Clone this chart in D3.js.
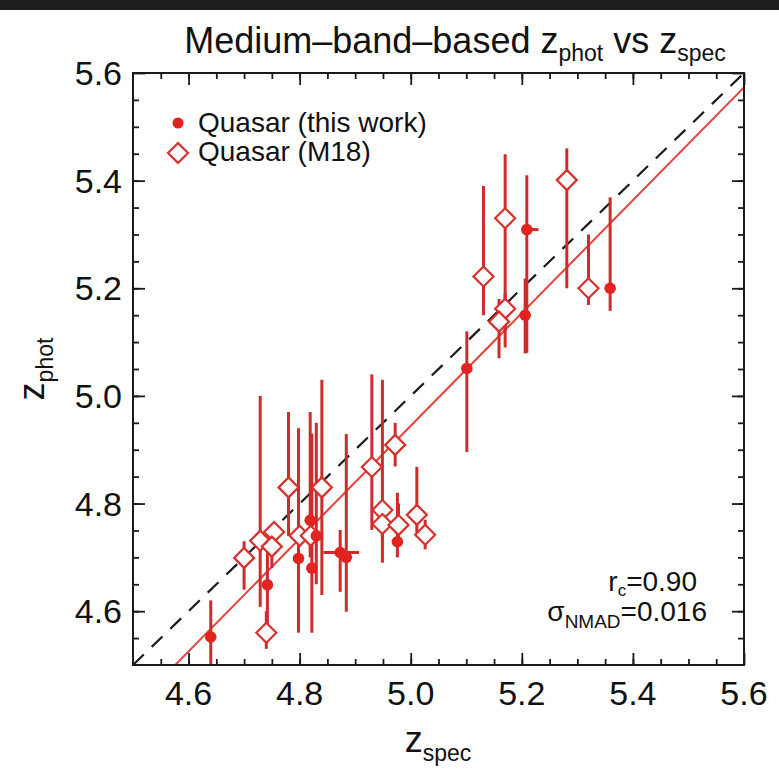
<!doctype html>
<html lang="en">
<head>
  <meta charset="utf-8">
  <title>Medium-band-based zphot vs zspec</title>
  <script src="https://d3js.org/d3.v7.min.js"></script>
  <style>
    body { margin: 0; background: #fff; font-family: 'Liberation Sans', Arial, Helvetica, sans-serif; }
    svg text { font-family: 'Liberation Sans', Arial, Helvetica, sans-serif; fill: #111; }
  </style>
</head>
<body>
<svg id="chart" width="779" height="770"></svg>
<script>
// quasars from this work (filled circles)
const thisZspec   = [4.640, 4.742, 4.798, 4.819, 4.822, 4.830, 4.873, 4.884, 4.976, 5.101, 5.209, 5.206, 5.359];
const thisZphot   = [4.552, 4.649, 4.698, 4.769, 4.680, 4.740, 4.709, 4.700, 4.729, 5.051, 5.309, 5.150, 5.200];
const thisPhotHi  = [4.620, 4.730, 4.940, 4.970, 4.930, 4.950, 4.751, 4.929, 4.820, 5.120, 5.410, 5.218, 5.369];
const thisPhotLo  = [4.450, 4.560, 4.560, 4.700, 4.560, 4.650, 4.636, 4.599, 4.700, 4.896, 5.080, 5.079, 5.158];
const thisSpecLo  = [null, null, null, null, null, null, 4.843, null, null, null, 5.209, null, null];
const thisSpecHi  = [null, null, null, null, null, null, 4.907, null, null, null, 5.230, null, null];

// quasars from M18 (open diamonds)
const m18Zspec  = [4.700, 4.729, 4.754, 4.750, 4.780, 4.740, 4.800, 4.820, 4.840, 4.930, 4.949, 4.949, 4.972, 4.978, 5.011, 5.026, 5.131, 5.170, 5.170, 5.159, 5.281, 5.320];
const m18Zphot  = [4.699, 4.731, 4.747, 4.720, 4.830, 4.560, 4.740, 4.740, 4.830, 4.868, 4.788, 4.762, 4.909, 4.760, 4.779, 4.742, 5.222, 5.330, 5.162, 5.138, 5.401, 5.200];
const m18PhotHi = [4.730, 5.000, 4.757, 4.740, 4.970, 4.600, 4.760, 4.760, 5.030, 5.040, 5.030, 4.800, 4.950, 4.800, 4.868, 4.770, 5.390, 5.449, 5.190, 5.180, 5.460, 5.300];
const m18PhotLo = [4.640, 4.608, 4.714, 4.680, 4.740, 4.530, 4.720, 4.720, 4.630, 4.751, 4.690, 4.730, 4.869, 4.720, 4.745, 4.715, 5.150, 5.090, 5.120, 5.070, 5.200, 5.169];

// best-fit relation zphot = fitA + fitB * zspec
const fitA = -0.2956;
const fitB = 1.048;

const xLabels = [4.6, 4.8, 5.0, 5.2, 5.4, 5.6];
const yLabels = [4.6, 4.8, 5.0, 5.2, 5.4, 5.6];
const legendNames = ["Quasar (this work)", "Quasar (M18)"];
const statRc = "0.90";
const statNmad = "0.016";

const RED = "#e2231f";
const BAR = "#cf2b2b";
const INK = "#1a1a1a";

const svg = d3.select("#chart");
const pLeft = 133, pRight = 744, pTop = 73, pBottom = 665;
const x = d3.scaleLinear().domain([4.5, 5.6]).range([pLeft, pRight]);
const y = d3.scaleLinear().domain([4.5, 5.6]).range([pBottom, pTop]);

// dark strip along the top of the screenshot
svg.append("rect").attr("x", 0).attr("y", 0).attr("width", 779).attr("height", 10).attr("fill", "#1e1e1e");

svg.append("clipPath").attr("id", "plotclip")
  .append("rect").attr("x", pLeft).attr("y", pTop).attr("width", pRight - pLeft).attr("height", pBottom - pTop);

const plot = svg.append("g").attr("clip-path", "url(#plotclip)");

// one-to-one line
plot.append("line")
  .attr("x1", x(4.5)).attr("y1", y(4.5)).attr("x2", x(5.6)).attr("y2", y(5.6))
  .attr("stroke", INK).attr("stroke-width", 2.2).attr("stroke-dasharray", "15,11");

// fit line
plot.append("line")
  .attr("x1", x(4.5)).attr("y1", y(fitA + fitB * 4.5))
  .attr("x2", x(5.6)).attr("y2", y(fitA + fitB * 5.6))
  .attr("stroke", "#e8403a").attr("stroke-width", 2);

const thisData = thisZspec.map((d, i) => ({ zs: d, zp: thisZphot[i], hi: thisPhotHi[i], lo: thisPhotLo[i], xlo: thisSpecLo[i], xhi: thisSpecHi[i] }));
const m18Data = m18Zspec.map((d, i) => ({ zs: d, zp: m18Zphot[i], hi: m18PhotHi[i], lo: m18PhotLo[i] }));

// error bars
plot.selectAll("line.m18err").data(m18Data).enter().append("line")
  .attr("class", "m18err")
  .attr("x1", d => x(d.zs)).attr("x2", d => x(d.zs))
  .attr("y1", d => y(d.lo)).attr("y2", d => y(d.hi))
  .attr("stroke", BAR).attr("stroke-width", 3);

plot.selectAll("line.thiserr").data(thisData).enter().append("line")
  .attr("class", "thiserr")
  .attr("x1", d => x(d.zs)).attr("x2", d => x(d.zs))
  .attr("y1", d => y(d.lo)).attr("y2", d => y(d.hi))
  .attr("stroke", BAR).attr("stroke-width", 3);

plot.selectAll("line.thisxerr").data(thisData.filter(d => d.xlo !== null)).enter().append("line")
  .attr("class", "thisxerr")
  .attr("x1", d => x(d.xlo)).attr("x2", d => x(d.xhi))
  .attr("y1", d => y(d.zp)).attr("y2", d => y(d.zp))
  .attr("stroke", BAR).attr("stroke-width", 3);

const diamond = s => `M0,${-s}L${s},0L0,${s}L${-s},0Z`;

plot.selectAll("path.m18").data(m18Data).enter().append("path")
  .attr("class", "m18")
  .attr("transform", d => `translate(${x(d.zs)},${y(d.zp)})`)
  .attr("d", diamond(10))
  .attr("fill", "#fff").attr("stroke", "#d9302c").attr("stroke-width", 2.2);

plot.selectAll("circle.this").data(thisData).enter().append("circle")
  .attr("class", "this")
  .attr("cx", d => x(d.zs)).attr("cy", d => y(d.zp)).attr("r", 5.8)
  .attr("fill", RED);

// axes: minor ticks every 0.05, major every 0.2, all pointing inward
const minor = d3.range(4.55, 5.6, 0.05);
const axes = [
  [d3.axisBottom, `translate(0,${pBottom})`, x],
  [d3.axisTop, `translate(0,${pTop})`, x],
  [d3.axisLeft, `translate(${pLeft},0)`, y],
  [d3.axisRight, `translate(${pRight},0)`, y]
];
axes.forEach(([fn, tr, sc]) => {
  const gm = svg.append("g").attr("transform", tr)
    .call(fn(sc).tickValues(minor).tickSize(-6).tickFormat(""));
  const gM = svg.append("g").attr("transform", tr)
    .call(fn(sc).tickValues(xLabels).tickSize(-12).tickFormat(""));
  [gm, gM].forEach(g => {
    g.select(".domain").remove();
    g.selectAll(".tick line").attr("stroke", INK).attr("stroke-width", 1.8);
  });
});

svg.append("rect")
  .attr("x", pLeft).attr("y", pTop).attr("width", pRight - pLeft).attr("height", pBottom - pTop)
  .attr("fill", "none").attr("stroke", INK).attr("stroke-width", 2);

// tick labels
svg.selectAll("text.xl").data(xLabels).enter().append("text")
  .attr("class", "xl")
  .attr("x", d => x(d)).attr("y", 705)
  .attr("text-anchor", "middle").attr("font-size", 34)
  .text(d => d.toFixed(1));

svg.selectAll("text.yl").data(yLabels).enter().append("text")
  .attr("class", "yl")
  .attr("x", 122).attr("y", d => y(d) + 12)
  .attr("text-anchor", "end").attr("font-size", 34)
  .text(d => d.toFixed(1));

// axis titles
const xt = svg.append("text").attr("x", 438).attr("y", 752).attr("text-anchor", "middle").attr("font-size", 36);
xt.append("tspan").text("z");
xt.append("tspan").attr("font-size", 23).attr("dy", 9).text("spec");

const yt = svg.append("text").attr("transform", "translate(44,369) rotate(-90)").attr("text-anchor", "middle").attr("font-size", 36);
yt.append("tspan").text("z");
yt.append("tspan").attr("font-size", 23).attr("dy", 9).text("phot");

// title
const tt = svg.append("text").attr("x", 455).attr("y", 53).attr("text-anchor", "middle").attr("font-size", 36);
tt.append("tspan").text("Medium\u2013band\u2013based z");
tt.append("tspan").attr("font-size", 23).attr("dy", 8).text("phot");
tt.append("tspan").attr("dy", -8).text(" vs z");
tt.append("tspan").attr("font-size", 23).attr("dy", 8).text("spec");

// legend
svg.append("circle").attr("cx", 178).attr("cy", 123).attr("r", 5.5).attr("fill", RED);
svg.append("path").attr("transform", "translate(178,153)").attr("d", diamond(10))
  .attr("fill", "#fff").attr("stroke", "#d9302c").attr("stroke-width", 2.2);
svg.selectAll("text.leg").data(legendNames).enter().append("text")
  .attr("class", "leg")
  .attr("x", 198).attr("y", (d, i) => 132 + i * 29)
  .attr("font-size", 28)
  .text(d => d);

// statistics
const s1 = svg.append("text").attr("x", 697).attr("y", 591).attr("text-anchor", "end").attr("font-size", 28);
s1.append("tspan").text("r");
s1.append("tspan").attr("font-size", 17).attr("dy", 5).text("c");
s1.append("tspan").attr("dy", -5).text("=" + statRc);

const s2 = svg.append("text").attr("x", 707).attr("y", 621).attr("text-anchor", "end").attr("font-size", 28);
s2.append("tspan").text("\u03c3");
s2.append("tspan").attr("font-size", 19).attr("dy", 7).text("NMAD");
s2.append("tspan").attr("dy", -7).text("=" + statNmad);
</script>
</body>
</html>
